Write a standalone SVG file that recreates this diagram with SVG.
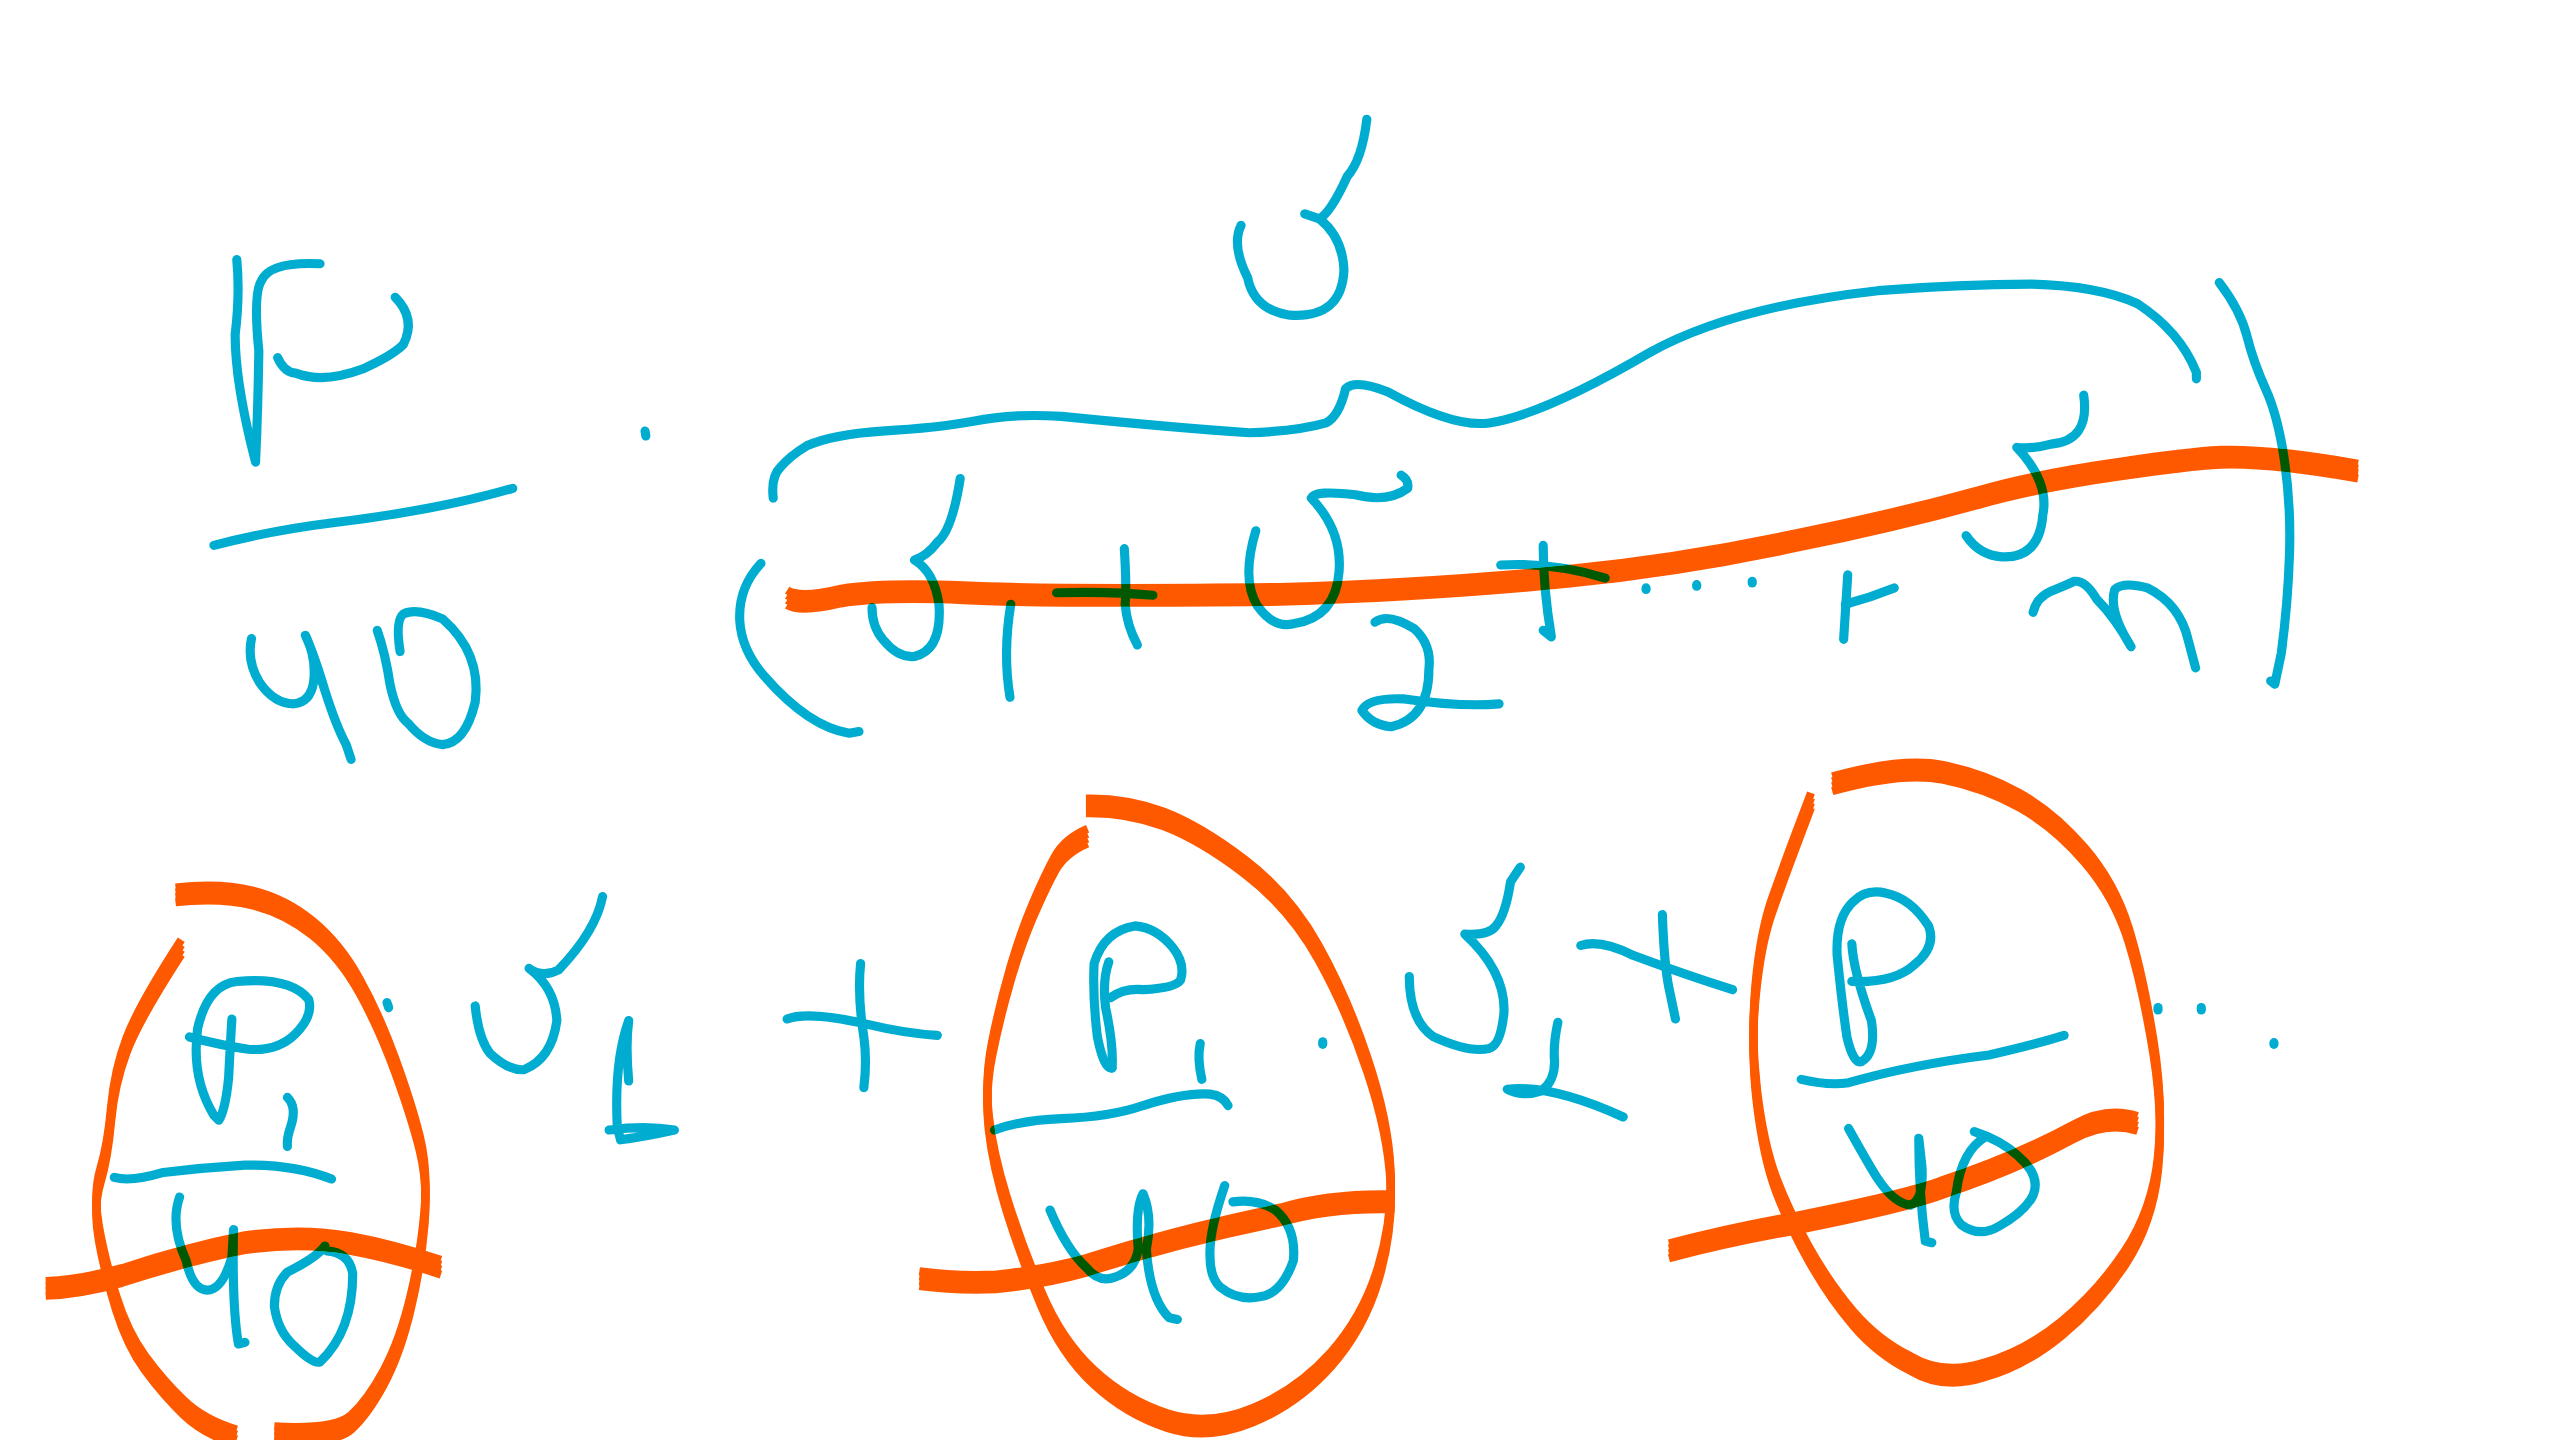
<svg xmlns="http://www.w3.org/2000/svg" xmlns:xlink="http://www.w3.org/1999/xlink" width="2560" height="1440" viewBox="0 0 2560 1440">
<style>
.o{fill:none;stroke:#ff5900;stroke-width:5;stroke-linecap:butt;stroke-linejoin:round}
.c{fill:none;stroke:#00add0;stroke-width:5.6;stroke-linecap:round;stroke-linejoin:round}
#ink{mix-blend-mode:darken}
</style>
<defs>
<g id="orange">
<path d="M482 366 Q490 371 515 365 Q540 361 590 363 Q640 365.5 784 364 Q880 361 960 353 Q1030 346 1100 331 Q1160 319 1214 304 Q1250 294 1300 287 Q1340 281 1360 280 Q1390 279 1444 288.5"/>
<path d="M107.5 548 Q135 545 155 550 Q175 555 191.5 568.5 Q208 582 220 603.5 Q232 625 242 652.5 Q252 680 257 700 Q262 720 260 745 Q258 770 251.5 797.5 Q245 825 235 843.5 Q225 862 215 871 Q205 880 168 878"/>
<path d="M111 580 Q85 620 77.5 640 Q70 660 68 682.5 Q66 705 61.5 720 Q57 735 60.5 755 Q64 775 71 797.5 Q78 820 89 835 Q100 850 112.5 862 Q125 874 145 880"/>
<path d="M28 789 Q50 788 75 781 Q115 768 150 761 Q185 756 215 761.5 Q240 766 270 776"/>
<path d="M665 493.5 Q690 493 712.5 501.5 Q735 510 762.5 531 Q790 552 807.5 583.5 Q825 615 837.5 652.5 Q850 690 851.5 720 Q853 750 844 780 Q835 810 815 832.5 Q795 855 767.5 866.5 Q740 878 715 870 Q690 862 670 843.5 Q650 825 637.5 795 Q625 765 616.5 737.5 Q608 710 605.5 687.5 Q603 665 607.5 642.5 Q612 620 618.5 597.5 Q625 575 632.5 557.5 Q640 540 646 529 Q652 518 666 512"/>
<path d="M563 783 Q585 786 610 785 Q640 782 665 775 Q720 757 784 744 Q815 735 854 736"/>
<path d="M1122 480 Q1165 468 1190 473 Q1215 478 1236.5 490 Q1258 502 1276.5 523.5 Q1295 545 1303.5 572.5 Q1312 600 1318.5 640 Q1325 680 1321.5 712.5 Q1318 745 1301.5 770 Q1285 795 1262.5 813.5 Q1240 832 1215 839 Q1190 847 1170 835 Q1150 825 1135 807.5 Q1120 790 1107.5 767.5 Q1095 745 1087.5 725 Q1080 705 1076 672.5 Q1072 640 1075 607.5 Q1078 575 1085 555 Q1092 535 1100.5 512.5 L1109 490"/>
<path d="M1022 766 Q1060 756 1100 749 Q1170 735 1190 727 Q1235 712 1270 693 Q1290 682 1309 688"/>
</g>
</defs>
<rect width="2560" height="1440" fill="#fff"/>
<g transform="scale(1.633)">
<g id="marker" class="o">
<use href="#orange" y="-4.5"/><use href="#orange" y="-1.5"/><use href="#orange" y="1.5"/><use href="#orange" y="4.5"/>
</g>
<g id="ink" class="c">
<g id="top-left-fraction">
<path d="M145 159 Q147 180 144 205 Q144 235 156.5 283 Q158 250 158.5 215 Q155 180 160 172 Q165 160 196 161.5"/>
<path d="M170 219 Q174 228 181 228.5 Q198 235 222 226 Q240 218 247 211 Q255 195 242 182"/>
<path d="M131 334 Q165 325 205 320 Q270 312 314 299"/>
<path d="M154 391 Q151 405 159 418 Q168 431 180 431 Q190 430 192 418 Q194 403 187 389 Q192 400 199 423 Q206 445 212 456 L215 465"/>
<path d="M231 386 Q236 400 239 420 Q243 438 250 443 Q260 455 271 456 Q285 455 291 430 Q295 400 271 379 Q255 372 247 376 Q242 380 245 399"/>
<path d="M395 264 L395.5 267"/>
</g>
<g id="top-sum">
<path d="M473.5 305 Q472 292 478 286 Q484 279 494 273 Q510 266 540 264 Q575 262 596 258 Q620 253 650 255 Q720 262 765 265 Q795 264 812 259 Q820 255 824 238 Q830 232 850 240 Q890 262 912 259 Q945 254 1010 216 Q1060 188 1150 178 Q1200 174 1244 174 Q1285 175 1309 186 Q1335 203 1345 228 L1345 232"/>
<path d="M466 345 Q452 360 453 380 Q454 398 468 414 Q495 445 520 449 L526 448"/>
<path d="M588 293 Q583 325 574 332 Q568 340 560 343 Q572 350 575 370 Q577 398 560 402 Q550 403 541 392 Q534 384 534 372"/>
<path d="M619 370 Q614 400 618.5 427"/>
<path d="M647 363 Q680 362 706 364.5"/>
<path d="M688.5 336 Q690 360 689 370 Q690 383 696.5 395"/>
<path d="M760 138 Q754 150 764 170 Q768 190 790 193 Q822 195 823 165 Q822 145 808 134 L799 131 L808 134 Q815 130 825 108 Q834 98 837 73"/>
<path d="M769 325 Q760 355 770 371 Q780 385 792 382 Q818 378 820 350 Q822 325 803 305 Q805 300 830 303 Q850 308 862 299 Q863 294 858 291"/>
<path d="M842 381 Q850 375 866 385 Q877 395 875 410 Q875 440 852 445 Q840 444 834 435 Q838 427 860 428 Q895 433 918 431"/>
<path d="M919 346 Q950 344 983 354"/>
<path d="M945 334 Q945 360 950 390 L945 386"/>
<path d="M1008 360 L1008 361"/>
<path d="M1039 358 L1039 359"/>
<path d="M1073 356 L1073 357"/>
<path d="M1131.5 352 Q1130 375 1129 391.5"/>
<path d="M1130 370 Q1145 366 1160 360"/>
<path d="M1276 242 Q1280 270 1256 272 Q1245 275 1235 274 Q1255 295 1251 315 Q1249 342 1226 341 Q1212 340 1204 328"/>
<path d="M1245 375 Q1247 366 1256 362 Q1266 358 1270 356 Q1277 355 1284 367 Q1295 378 1305 396 Q1291 374 1295 361 Q1300 356 1315 360 Q1335 370 1340 392 L1344.5 409"/>
<path d="M1359 173 Q1372 190 1376 206 Q1380 222 1387.5 238.5 Q1395 255 1399 282.5 Q1403 310 1402 340 Q1401 370 1397 400 L1393 419 L1390.5 417"/>
</g>
<g id="bottom-term-1">
<path d="M116 635 Q135 640 152 642.5 Q170 644 181 633 Q192 622 189 612 Q178 598 145 601 Q127 603 121 630 Q117 660 131 683 L134 686 Q138 680 140 660 Q141 640 142 624"/>
<path d="M176 672 Q182 678 178 690 Q175.5 697 176 702"/>
<path d="M70 721 Q80 724 100 718 Q125 715 150 713.5 Q180 713 203 722"/>
<path d="M110 733 Q104 750 114 772 Q118 790 127 790 Q136 790 142 770 L143 753 Q142 800 146 823 L150 822"/>
<path d="M199 763 Q194 770 176 779 Q168 787 168 800 Q170 815 180 824 Q192 836 196 834 Q216 815 216 780 Q214 767 200 766"/>
<path d="M237 614 L238 617"/>
<path d="M291 616 Q293 636 300 645 Q312 656 321 655 Q338 648 341 625 Q340 605 324 593 Q332 599 342 594 Q365 570 369 549"/>
<path d="M385 662 Q383 640 385 625 Q376 650 378 690 L380 698 Q395 696 413 692 Q395 689 373 692"/>
<path d="M482 624 Q495 619 530 627 Q555 633 574 634"/>
<path d="M527 590 Q525 610 529 635 Q531 650 529 666"/>
</g>
<g id="bottom-term-2">
<path d="M681 654 Q676 655 672 635 Q669 610 670 590 Q676 570 695 567 Q708 568 718 580 Q726 590 723 600 Q720 605 700 606 Q688 605 680 611"/>
<path d="M679 589 Q675 600 677 617 Q682 640 681 654"/>
<path d="M735 639 Q733 648 736 661"/>
<path d="M609 692 Q625 686 650 685 Q680 684 700 677 Q725 669 741 670 Q749 671 752 677"/>
<path d="M643 741 Q653 765 665 776 Q673 786 683 782 Q695 778 697 765 Q695 740 700 731 Q706 745 702 765 Q704 795 716 807 L721 808"/>
<path d="M750 726 Q740 755 741 770 Q741 782 747 788 Q758 797 772 794 Q785 792 792 772 Q794 752 781 741 Q770 734 755 736"/>
<path d="M810 638 L810 639.5"/>
<path d="M863 598 Q863 625 878 635 Q900 645 912 642 Q919 640 921 620 Q922 595 897 572 Q912 573 916 567 Q922 560 925 540 L931 531"/>
<path d="M954 626 Q951 640 952 650 Q952 662 944 668 Q932 672 923 667 Q950 664 994 684"/>
<path d="M968 579 Q980 575 1000 585 Q1035 598 1061 606"/>
<path d="M1018 560 Q1019 590 1022 605 L1026 624"/>
</g>
<g id="bottom-term-3">
<path d="M1134 601 Q1160 602 1172 591 Q1186 580 1181 567 Q1170 550 1155 547 Q1143 544 1135 552 Q1124 562 1125 585 Q1128 615 1131 635 Q1135 652 1140 650 Q1149 645 1146 625 Q1135 595 1134 578"/>
<path d="M1103 661 Q1120 665 1132 663 Q1170 652 1218 646 Q1245 640 1264 634"/>
<path d="M1132 691 Q1146 716 1150 722 Q1160 737 1170 738 Q1178 735 1177 715 L1175 697 Q1175 730 1179 760 L1183 761"/>
<path d="M1209 693 Q1225 698 1236 708 Q1250 720 1245 732 Q1240 742 1224 751 Q1212 758 1201 750 Q1194 743 1198 730 Q1201 705 1216 696"/>
<path d="M1321.5 617 L1321.5 618.5"/>
<path d="M1348 617 L1348 618.5"/>
<path d="M1392.5 638.5 L1392.5 639.5"/>
</g>
</g>
</g>
</svg>
